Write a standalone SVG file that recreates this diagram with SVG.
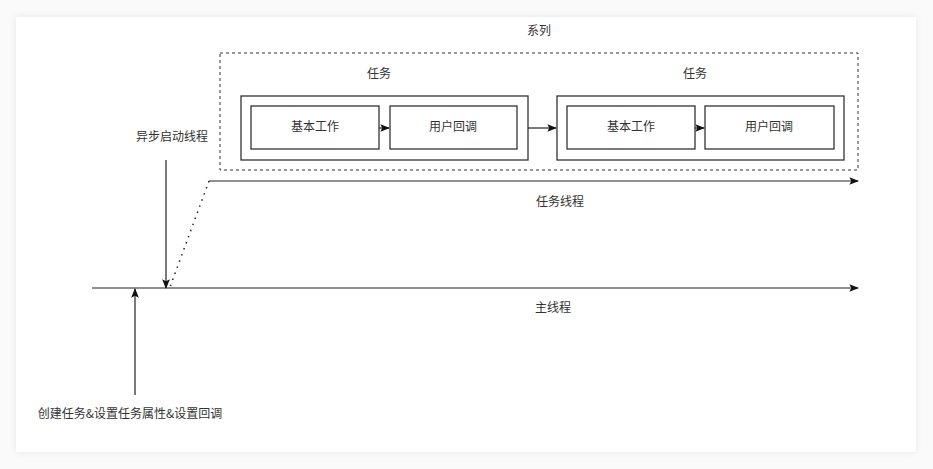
<svg xmlns="http://www.w3.org/2000/svg" width="933" height="469" viewBox="0 0 933 469">
<style>
text{font-family:"Noto Sans CJK SC","Noto Sans",sans-serif;font-size:12px;fill:#333;text-anchor:middle;dominant-baseline:middle}
.box{fill:#fff;stroke:#333;stroke-width:1.3}
.ln{fill:none;stroke:#222;stroke-width:1.2}
</style>
<defs>
<filter id="sh" x="-5%" y="-5%" width="110%" height="110%"><feDropShadow dx="0" dy="0" stdDeviation="3" flood-color="#000" flood-opacity="0.08"/></filter>
<marker id="ah" viewBox="0 0 10 10" refX="9" refY="5" markerWidth="8" markerHeight="8" orient="auto"><path d="M0,1 L10,5 L0,9 L2,5Z" fill="#111"/></marker>
</defs>
<rect width="933" height="469" fill="#fafafa"/>
<rect x="16" y="17" width="900" height="435" fill="#fff" filter="url(#sh)"/>
<g id="series"><rect x="220" y="53" width="638" height="117" fill="none" stroke="#333" stroke-dasharray="3,3"/><text x="539" y="32">系列</text></g>
<g id="task1"><rect class="box" x="241" y="96" width="287" height="64"/><text x="379" y="75">任务</text>
<g id="work1"><rect class="box" x="251" y="106" width="128" height="43"/><text x="315" y="128">基本工作</text></g>
<g id="cb1"><rect class="box" x="390" y="106" width="127" height="43"/><text x="453" y="128">用户回调</text></g></g>
<g id="task2"><rect class="box" x="557" y="96" width="287" height="64"/><text x="695" y="75">任务</text>
<g id="work2"><rect class="box" x="567" y="106" width="128" height="43"/><text x="631" y="128">基本工作</text></g>
<g id="cb2"><rect class="box" x="705" y="106" width="129" height="43"/><text x="769" y="128">用户回调</text></g></g>
<g id="labels">
<text x="560" y="203">任务线程</text>
<text x="553" y="309">主线程</text>
<text x="172" y="138">异步启动线程</text>
<text x="130" y="415">创建任务&amp;设置任务属性&amp;设置回调</text>
</g>
<g id="connectors">
<line class="ln" x1="379" y1="128" x2="389" y2="128" marker-end="url(#ah)"/>
<line class="ln" x1="695" y1="128" x2="704" y2="128" marker-end="url(#ah)"/>
<line class="ln" x1="528" y1="128" x2="556" y2="128" marker-end="url(#ah)"/>
<line class="ln" x1="209" y1="181" x2="858" y2="181" marker-end="url(#ah)"/>
<line x1="209" y1="181" x2="170" y2="287" stroke="#222" stroke-width="1.5" stroke-dasharray="1.5,5"/>
<line class="ln" x1="92" y1="288" x2="858" y2="288" marker-end="url(#ah)"/>
<line class="ln" x1="166" y1="160" x2="166" y2="288" marker-end="url(#ah)"/>
<line class="ln" x1="135" y1="395" x2="135" y2="289" marker-end="url(#ah)"/>
</g>
</svg>
